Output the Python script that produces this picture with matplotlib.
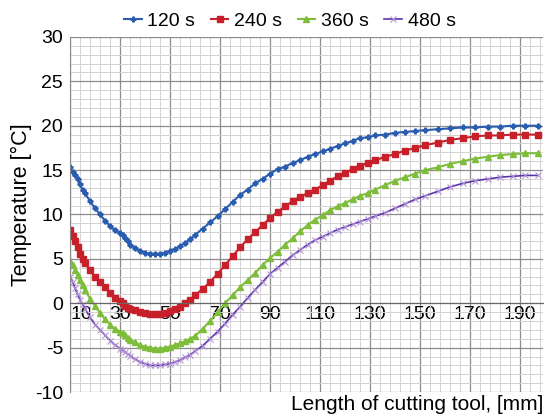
import matplotlib
matplotlib.use("Agg")
import matplotlib.pyplot as plt
from matplotlib.ticker import MultipleLocator

plt.rcParams['font.family'] = ['Liberation Sans', 'DejaVu Sans']
plt.rcParams['axes.unicode_minus'] = False

# length along the cutting tool [mm]
length = [10, 11, 12, 13, 14, 15, 16, 18, 20, 22, 24, 26, 28, 30, 31, 32, 33, 34,
          36, 38, 40, 42, 44, 46, 48, 50, 52, 54, 56, 58, 60, 63, 66, 69, 72, 75,
          78, 81, 84, 87, 90, 93, 96, 99, 102, 105, 108, 111, 114, 117, 120, 123,
          126, 129, 132, 136, 140, 144, 148, 152, 157, 162, 167, 172, 177, 182,
          187, 192, 197]

t120 = [15.3, 14.8, 14.4, 14.0, 13.4, 12.8, 12.4, 11.5, 10.7, 10.0, 9.3, 8.7, 8.2,
        7.9, 7.7, 7.4, 7.0, 6.6, 6.2, 5.9, 5.7, 5.6, 5.6, 5.6, 5.7, 5.9, 6.1, 6.4,
        6.8, 7.2, 7.7, 8.4, 9.1, 9.8, 10.6, 11.4, 12.2, 12.8, 13.5, 14.0, 14.6,
        15.1, 15.4, 15.8, 16.1, 16.5, 16.8, 17.1, 17.4, 17.7, 18.0, 18.3, 18.6,
        18.7, 18.9, 19.0, 19.2, 19.3, 19.4, 19.5, 19.6, 19.7, 19.8, 19.8, 19.9,
        19.9, 20.0, 20.0, 20.0]

t240 = [8.2, 7.6, 7.0, 6.3, 5.6, 5.0, 4.5, 3.7, 3.0, 2.4, 1.8, 1.2, 0.6, 0.2, 0.0,
        -0.3, -0.5, -0.6, -0.8, -1.0, -1.1, -1.2, -1.2, -1.2, -1.1, -0.9, -0.7,
        -0.4, 0.0, 0.4, 0.9, 1.6, 2.4, 3.3, 4.3, 5.3, 6.3, 7.2, 8.0, 8.8, 9.6,
        10.3, 10.9, 11.5, 12.0, 12.4, 12.8, 13.3, 13.8, 14.3, 14.7, 15.1, 15.5,
        15.8, 16.1, 16.5, 16.8, 17.2, 17.5, 17.8, 18.1, 18.4, 18.6, 18.8, 18.9,
        18.9, 19.0, 19.0, 19.0]

t360 = [4.8, 4.3, 3.8, 3.2, 2.6, 2.0, 1.5, 0.5, -0.3, -1.1, -1.8, -2.4, -2.9, -3.2,
        -3.4, -3.6, -3.9, -4.1, -4.4, -4.7, -4.9, -5.0, -5.1, -5.1, -5.0, -4.9,
        -4.7, -4.5, -4.3, -4.0, -3.7, -2.9, -2.0, -1.0, 0.0, 0.9, 1.8, 2.6, 3.4,
        4.3, 5.1, 5.8, 6.6, 7.3, 8.1, 8.8, 9.4, 9.9, 10.5, 10.9, 11.3, 11.7, 12.1,
        12.4, 12.8, 13.3, 13.8, 14.2, 14.6, 15.0, 15.3, 15.7, 16.0, 16.3, 16.5,
        16.7, 16.8, 16.9, 16.9]

t480 = [3.0, 2.4, 1.7, 1.0, 0.4, -0.1, -0.6, -1.6, -2.4, -3.0, -3.6, -4.2, -4.7,
        -5.1, -5.3, -5.5, -5.7, -5.9, -6.3, -6.6, -6.8, -7.0, -7.0, -7.0, -6.9,
        -6.8, -6.6, -6.4, -6.1, -5.8, -5.4, -4.8, -4.0, -3.2, -2.3, -1.3, -0.4,
        0.6, 1.5, 2.4, 3.3, 4.0, 4.7, 5.4, 6.0, 6.6, 7.1, 7.5, 7.9, 8.3, 8.6, 8.9,
        9.2, 9.5, 9.8, 10.2, 10.7, 11.2, 11.7, 12.1, 12.6, 13.1, 13.5, 13.8, 14.0,
        14.2, 14.3, 14.4, 14.4]

fig = plt.figure(figsize=(5.47, 4.15), dpi=100)
ax = fig.add_axes([0.128, 0.0554, 0.865, 0.8556])

ax.plot(length, t120, color='#2a5db0', lw=1.5, marker='P', ms=3.5, label='120 s')
ax.plot(length, t240, color='#c8202a', lw=1.5, marker='s', ms=4.5, label='240 s')
ax.plot(length, t360, color='#7dbd3a', lw=1.5, marker='^', ms=4.5, label='360 s')
ax.plot(length, t480, color='#5a35a8', lw=1.2, marker='x', ms=4, mew=0.8,
        mec='#b592d8', label='480 s')

ax.set_xlim(10, 199.2)
ax.set_ylim(-10, 30)
ax.xaxis.set_major_locator(MultipleLocator(20, offset=10))
ax.xaxis.set_minor_locator(MultipleLocator(4, offset=2))
ax.yaxis.set_major_locator(MultipleLocator(5))
ax.yaxis.set_minor_locator(MultipleLocator(1))
ax.grid(which='major', color='#8c8c8c', lw=0.9)
ax.grid(which='minor', color='#d2d2d2', lw=0.7)
ax.set_axisbelow(True)

for s in ['top', 'right']:
    ax.spines[s].set_visible(False)
ax.spines['bottom'].set_position(('data', 0))
ax.spines['bottom'].set_color('#666666')
ax.spines['left'].set_color('#888888')
ax.tick_params(which='both', length=0, labelsize=14)
ax.tick_params(axis='x', pad=2)
ax.tick_params(axis='y', pad=5)

fig.canvas.draw()
for lbl in ax.get_xticklabels():
    if lbl.get_text() == '10':
        lbl.set_horizontalalignment('left')

fig.text(0.04, 0.506, 'Temperature [°C]', rotation=90,
         ha='center', va='center', fontsize=15.5)
fig.text(0.993, 0.003, 'Length of cutting tool, [mm]', ha='right', va='bottom',
         fontsize=15)

fig.legend(loc='center', bbox_to_anchor=(0.53, 0.949), ncol=4, frameon=False,
           fontsize=14, handlelength=0.9, handletextpad=0.3, columnspacing=0.8,
           borderaxespad=0.0, borderpad=0.0)

fig.savefig('out.png', dpi=100)
